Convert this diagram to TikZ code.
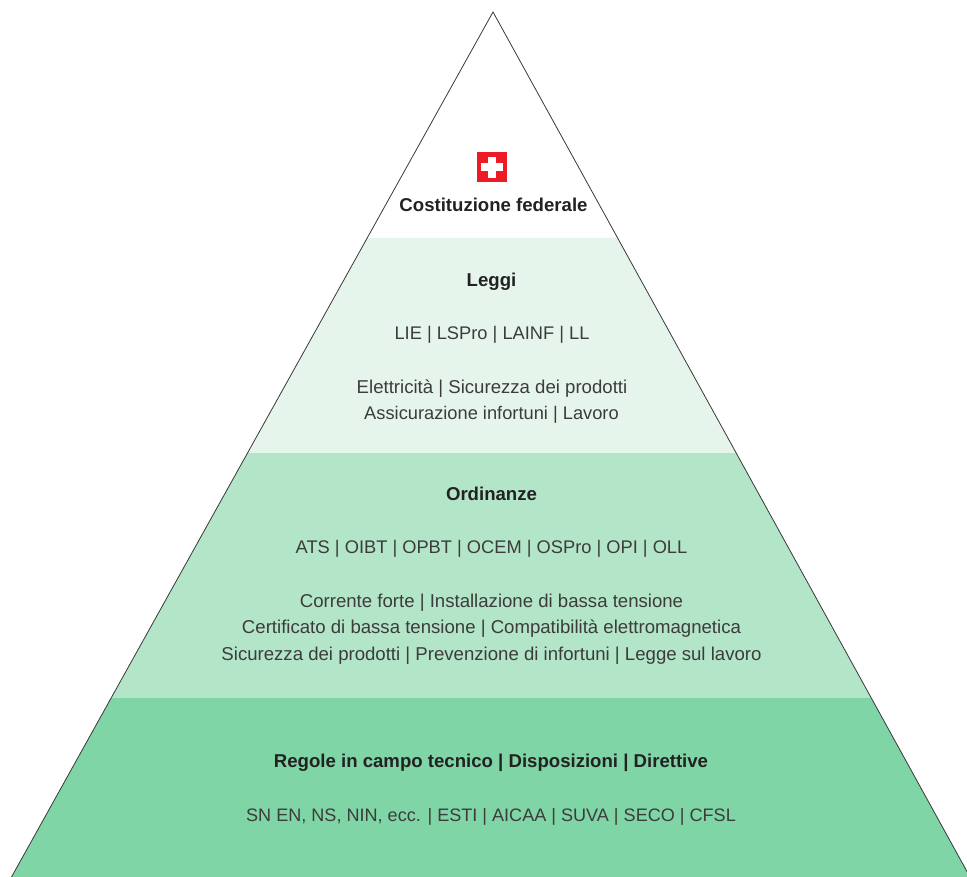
\documentclass[tikz,border=0pt]{standalone}
\usepackage{fontspec}
\setmainfont{Liberation Sans}
\definecolor{bandA}{HTML}{E5F5EC}
\definecolor{bandB}{HTML}{B3E5C8}
\definecolor{bandC}{HTML}{80D5A6}
\definecolor{inkT}{HTML}{222222}
\definecolor{inkB}{HTML}{3C3C3C}
\definecolor{swissred}{HTML}{ED1C24}
\tikzset{
  head/.style={font=\fontsize{13.95}{16}\selectfont\bfseries,text=inkT,inner sep=0pt,anchor=center},
  body/.style={font=\fontsize{13.95}{16}\selectfont,text=inkB,inner sep=0pt,anchor=center},
  bodyN/.style={body,font=\fontsize{13.7}{16}\selectfont},
  outline/.style={draw=inkT!90,line width=0.6pt,line join=miter},
}
\begin{document}
\begin{tikzpicture}[x=0.75pt,y=-0.75pt]
\useasboundingbox (0,0) rectangle (967,877);
\begin{scope}
\clip (0,0) rectangle (967,877);
\coordinate (apex) at (493,12);
\coordinate (bl) at (11.5,877);
\coordinate (br) at (970,877);
\fill[bandA] (367.2,238) -- (617.6,238) -- (736.2,453) -- (247.5,453) -- cycle;
\fill[bandB] (247.5,453) -- (736.2,453) -- (871.3,698) -- (111.2,698) -- cycle;
\fill[bandC] (111.2,698) -- (871.3,698) -- (br) -- (bl) -- cycle;
\draw[outline] (bl) -- (apex) -- (br);
\end{scope}
\fill[swissred] (477,152) rectangle (507,182);
\fill[white] (488.3,157) rectangle (495.7,178);
\fill[white] (481,163.5) rectangle (503,170.7);
\node[head] (t1) at (493.5,205) {Costituzione federale};
\node[head] (t2) at (491.5,281.5) {Leggi};
\node[bodyN] (t3) at (492,335) {LIE | LSPro | LAINF | LL};
\node[body] (t4) at (492,389) {Elettricità | Sicurezza dei prodotti};
\node[bodyN] (t5) at (491.5,415) {Assicurazione infortuni | Lavoro};
\node[head] (t6) at (491.5,494) {Ordinanze};
\node[bodyN] (t7) at (491.5,549) {ATS | OIBT | OPBT | OCEM | OSPro | OPI | OLL};
\node[body] (t8) at (491.5,603) {Corrente forte | Installazione di bassa tensione};
\node[body] (t9) at (491.5,629) {Certificato di bassa tensione | Compatibilità elettromagnetica};
\node[body] (t10) at (491.5,656) {Sicurezza dei prodotti | Prevenzione di infortuni | Legge sul lavoro};
\node[head] (t11) at (491,762.5) {Regole in campo tecnico | Disposizioni | Direttive};
\node[bodyN,font=\fontsize{13.55}{16}\selectfont] (t12) at (491,817) {SN EN, NS, NIN, ecc. | ESTI | AICAA | SUVA | SECO | CFSL};
\end{tikzpicture}
\end{document}
